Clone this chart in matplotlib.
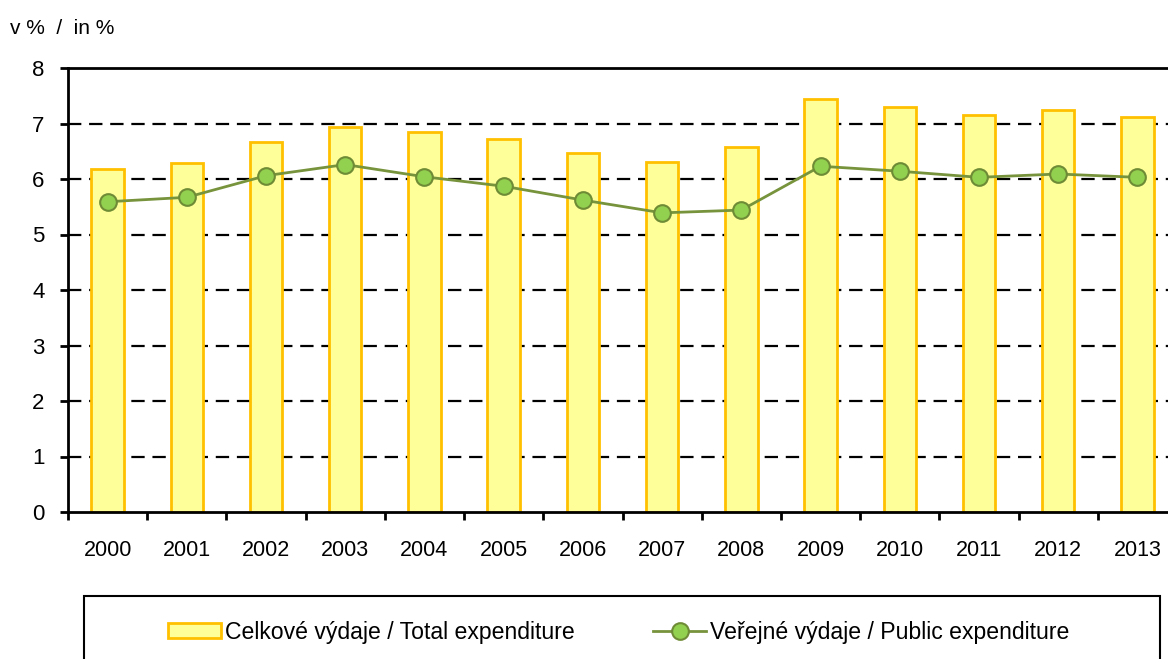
import matplotlib
matplotlib.use('Agg')
import matplotlib.pyplot as plt
from matplotlib.patches import Rectangle, Patch
from matplotlib.lines import Line2D
import numpy as np

plt.rcParams['font.family'] = ['Liberation Sans', 'DejaVu Sans']

roky = ['2000', '2001', '2002', '2003', '2004', '2005', '2006',
        '2007', '2008', '2009', '2010', '2011', '2012', '2013']
celkove = [6.18, 6.28, 6.67, 6.94, 6.84, 6.72, 6.47,
           6.31, 6.58, 7.45, 7.30, 7.15, 7.24, 7.11]
verejne = [5.59, 5.67, 6.06, 6.26, 6.04, 5.87, 5.62,
           5.39, 5.44, 6.23, 6.14, 6.03, 6.09, 6.03]

lbl_celk = 'Celkové výdaje / Total expenditure'
lbl_ver = 'Veřejné výdaje / Public expenditure'

fig = plt.figure(figsize=(11.68, 6.59), dpi=100)
W, H = 1168, 659
ax = fig.add_axes([68 / W, (H - 512) / H, 1109 / W, 444 / H])

x = np.arange(len(roky))

# mrizka - carkovane linie
for v in range(1, 8):
    ax.axhline(v, color='black', lw=1.6, dashes=(6, 3.5), zorder=1)

ax.bar(x, celkove, width=0.41, color='#FFFF99', edgecolor='#FFC000',
       linewidth=2, zorder=2)
ax.plot(x, verejne, color='#77933C', lw=2, marker='o', markersize=12,
        markerfacecolor='#92D050', markeredgecolor='#6E8B35',
        markeredgewidth=1.5, zorder=3)

ax.set_xlim(-0.5, len(roky) - 0.5)
ax.set_ylim(0, 8)
ax.set_yticks(range(0, 9))
ax.set_xticks(x)
ax.set_xticklabels(roky)
ax.set_xticks(np.arange(-0.5, len(roky), 1), minor=True)
ax.tick_params(axis='x', which='major', length=0, pad=20, labelsize=15.5)
ax.tick_params(axis='x', which='minor', length=6, width=2, direction='out')
ax.tick_params(axis='y', length=6, width=2, direction='out', pad=11, labelsize=16)

for s in ['left', 'bottom', 'top']:
    ax.spines[s].set_linewidth(2)
    ax.spines[s].set_color('black')
ax.spines['right'].set_visible(False)

fig.text(10 / W, 1 - 28 / H, 'v %  /  in %', fontsize=15, va='center', ha='left')

# ramecek legendy
fig.patches.append(Rectangle((84 / W, -0.05), (1160 - 84) / W, 1.05 - 596 / H,
                             transform=fig.transFigure, fill=False,
                             edgecolor='black', lw=1.5))

handles = [Patch(facecolor='#FFFF99', edgecolor='#FFC000', linewidth=2),
           Line2D([0], [0], color='#77933C', lw=2, marker='o', markersize=12,
                  markerfacecolor='#92D050', markeredgecolor='#6E8B35',
                  markeredgewidth=1.5)]
fig.legend(handles, [lbl_celk, lbl_ver], loc='center', ncol=2,
           bbox_to_anchor=(619 / W, 1 - 632 / H), frameon=False, fontsize=16.6,
           handlelength=2.3, handletextpad=0.17, columnspacing=3.4,
           handleheight=0.6)

fig.savefig('out.png', dpi=100)
